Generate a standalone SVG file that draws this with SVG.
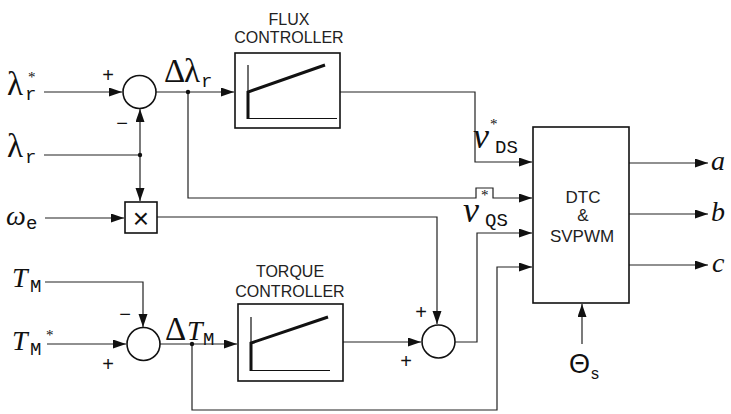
<svg xmlns="http://www.w3.org/2000/svg" width="731" height="414" viewBox="0 0 731 414">
<defs>
<marker id="ah" markerUnits="userSpaceOnUse" markerWidth="14" markerHeight="10" refX="13" refY="4.5" orient="auto">
<path d="M0,0 L13,4.5 L0,9 z" fill="#111"/>
</marker>
<style>
.ln{fill:none;stroke:#222;stroke-width:1.2}
.bx{fill:#fff;stroke:#111;stroke-width:1.6}
.th{fill:none;stroke:#111;stroke-width:1.2}
.tk{fill:none;stroke:#111;stroke-width:3}
.lab{font-family:"Liberation Sans",Arial,sans-serif;font-size:16px;fill:#222;text-anchor:middle}
.dtc{font-family:"Liberation Sans",Arial,sans-serif;font-size:17px;fill:#222;text-anchor:middle}
.gr{font-family:"Liberation Serif","DejaVu Serif",serif;font-size:33px;fill:#111}
.it{font-family:"Liberation Serif","DejaVu Serif",serif;font-size:28px;font-style:italic;fill:#111}
.vv{font-family:"Liberation Serif","DejaVu Serif",serif;font-size:36px;font-style:italic;fill:#111}
.sub{font-family:"Liberation Mono","DejaVu Sans Mono",monospace;font-size:19px;fill:#111}
.st{font-family:"Liberation Serif",serif;font-size:15px;fill:#111}
.sg{font-family:"Liberation Sans",Arial,sans-serif;font-size:20px;fill:#111;text-anchor:middle}
.dot{fill:#111}
</style>
</defs>

<g id="connectors">
<path class="ln" d="M44,92 H122" marker-end="url(#ah)"/>
<path class="ln" d="M44,155 H140"/>
<path class="ln" d="M140,155 V109" marker-end="url(#ah)"/>
<path class="ln" d="M140,155 V201" marker-end="url(#ah)"/>
<path class="ln" d="M45,218 H124" marker-end="url(#ah)"/>
<path class="ln" d="M156,92 H234" marker-end="url(#ah)"/>
<path class="ln" d="M188,92 V198 H476 V188 H493 V198 H532" marker-end="url(#ah)"/>
<path class="ln" d="M340,92 H475 V162 H532" marker-end="url(#ah)"/>
<path class="ln" d="M157,217 H437 V324" marker-end="url(#ah)"/>
<path class="ln" d="M45,282 H143 V327" marker-end="url(#ah)"/>
<path class="ln" d="M47,344 H126" marker-end="url(#ah)"/>
<path class="ln" d="M160,344 H237" marker-end="url(#ah)"/>
<path class="ln" d="M343,342 H421" marker-end="url(#ah)"/>
<path class="ln" d="M455,342 H477 V233 H532" marker-end="url(#ah)"/>
<path class="ln" d="M192,344 V410 H497 V267 H532" marker-end="url(#ah)"/>
<path class="ln" d="M629,163 H708" marker-end="url(#ah)"/>
<path class="ln" d="M629,214 H708" marker-end="url(#ah)"/>
<path class="ln" d="M629,265 H708" marker-end="url(#ah)"/>
<path class="ln" d="M582,344 V304" marker-end="url(#ah)"/>
<circle class="dot" cx="140" cy="155" r="2.2"/>
<circle class="dot" cx="188" cy="92" r="2.2"/>
<circle class="dot" cx="192" cy="344" r="2.2"/>
</g>

<g id="sum1">
<circle class="bx" cx="139.5" cy="92" r="16.5" stroke-width="1.3"/>
<text class="sg" x="108" y="82">+</text>
<text class="sg" x="122" y="130">−</text>
</g>

<g id="mult">
<rect class="bx" x="125" y="202" width="32" height="31" stroke-width="1.3"/>
<text x="141" y="228" font-family="Liberation Sans,Arial,sans-serif" font-size="28" text-anchor="middle" fill="#111">×</text>
</g>

<g id="flux-controller">
<text class="lab" x="289" y="25">FLUX</text>
<text class="lab" x="289" y="43">CONTROLLER</text>
<rect class="bx" x="235" y="53" width="105" height="75"/>
<path class="th" d="M248,65 V92 M248,118.5 H337"/>
<path class="tk" d="M248,119 V92 L325,65"/>
</g>

<g id="torque-controller">
<text class="lab" x="290" y="277">TORQUE</text>
<text class="lab" x="290" y="297">CONTROLLER</text>
<rect class="bx" x="238" y="304" width="105" height="77"/>
<path class="th" d="M251,317 V343 M251,370.5 H330"/>
<path class="tk" d="M251,371 V343 L328,317"/>
</g>

<g id="sum3">
<circle class="bx" cx="143.5" cy="344" r="16.5" stroke-width="1.3"/>
<text class="sg" x="125" y="321">−</text>
<text class="sg" x="108" y="371">+</text>
</g>

<g id="sum2">
<circle class="bx" cx="438.5" cy="341.5" r="16.5" stroke-width="1.3"/>
<text class="sg" x="421" y="319">+</text>
<text class="sg" x="406" y="368">+</text>
</g>

<g id="dtc">
<rect class="bx" x="533" y="127" width="96" height="176"/>
<text class="dtc" x="583" y="203">DTC</text>
<text class="dtc" x="583" y="221">&amp;</text>
<text class="dtc" x="582" y="242">SVPWM</text>
</g>

<g id="labels">
<text class="gr" x="7" y="95">λ</text><text class="sub" x="25" y="100">r</text><text class="st" x="28" y="82">*</text>
<text class="gr" x="7" y="157">λ</text><text class="sub" x="25" y="163">r</text>
<text class="it" x="6" y="225">ω</text><text class="sub" x="26" y="229">e</text>
<text class="it" x="12" y="287">T</text><text class="sub" x="30" y="292">M</text>
<text class="it" x="12" y="350">T</text><text class="sub" x="30" y="355">M</text><text class="st" x="46" y="340">*</text>
<text class="gr" x="164" y="82" font-size="24">Δ</text><text class="gr" x="184" y="82">λ</text><text class="sub" x="201" y="87">r</text>
<text class="gr" x="165" y="340" font-size="24">Δ</text><text class="it" x="187" y="340">T</text><text class="sub" x="203" y="345">M</text>
<text class="vv" x="473" y="148">v</text><text class="sub" x="495" y="153">DS</text><text class="st" x="490" y="129">*</text>
<text class="vv" x="463" y="222">v</text><text class="sub" x="485" y="226">QS</text><text class="st" x="481" y="200">*</text>
<text class="it" x="711" y="170" font-size="32">a</text>
<text class="it" x="711" y="221" font-size="32">b</text>
<text class="it" x="712" y="272" font-size="32">c</text>
<text x="569" y="373" font-family="Liberation Sans,Arial,sans-serif" font-size="27" fill="#111">Θ</text>
<text x="591" y="379" font-family="Liberation Sans,Arial,sans-serif" font-size="16" fill="#111">s</text>
</g>
</svg>
